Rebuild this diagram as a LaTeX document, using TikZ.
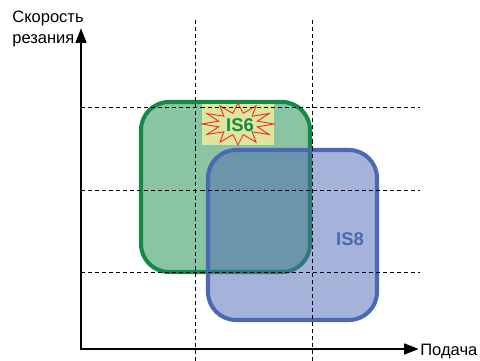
\documentclass[tikz,border=0pt]{standalone}
\usepackage{fontspec}
\setmainfont{Liberation Sans}
\usetikzlibrary{arrows.meta}
\definecolor{isgreen}{HTML}{138A48}
\definecolor{isblue}{HTML}{4C67B5}
\definecolor{isyellow}{HTML}{DDE69B}
\definecolor{isred}{HTML}{EE2A2A}

\begin{document}
\begin{tikzpicture}[x=0.02cm, y=-0.02cm, font=\fontsize{9.4}{11.5}\selectfont,
  grid/.style={black, line width=0.5pt, dash pattern=on 2.3pt off 1.7pt},
  axis/.style={black, line width=1.7pt, {Triangle[length=8.5pt, width=6pt]}-{Triangle[length=8.5pt, width=6pt]}},
  zone/.style={line width=2.3pt, rounded corners=0.56cm, fill opacity=0.5}]

\useasboundingbox (0,0) rectangle (480,361);

% 两个区域
\draw[zone, draw=isgreen, fill=isgreen] (141,102) rectangle (310,272);
\draw[zone, draw=isblue, fill=isblue] (208,150) rectangle (377,320);

% IS6 标记
\fill[isyellow] (202,104) rectangle (274,145);
\draw[isred, line width=0.5pt, shift={(238,124)}] (0:36 and 21)
  \foreach \a in {15,45,...,345} { -- (\a:20 and 11) -- (\a+15:36 and 21) } -- cycle;
\node[text=isgreen, font=\fontsize{10.5}{12}\selectfont\bfseries] (is6) at (240,125) {IS6};
\node[text=isblue, font=\fontsize{10.5}{12}\selectfont\bfseries] (is8) at (350,239) {IS8};

% 网格虚线
\draw[grid] (81,107) -- (420,107);
\draw[grid] (81,190) -- (420,190);
\draw[grid] (81,272) -- (420,272);
\draw[grid] (195,20) -- (195,361);
\draw[grid] (312,20) -- (312,361);

% 坐标轴
\coordinate (O) at (81,349);
\coordinate (ytop) at (81,28);
\coordinate (xend) at (419,349);
\draw[axis] (ytop) -- (O) -- (xend);

\node[anchor=north west, inner sep=0pt, align=left] (ylabel) at (12,11) {Скорость\\резания};
\node[anchor=west, inner sep=0pt] (xlabel) at (420,351) {Подача};

\end{tikzpicture}
\end{document}
